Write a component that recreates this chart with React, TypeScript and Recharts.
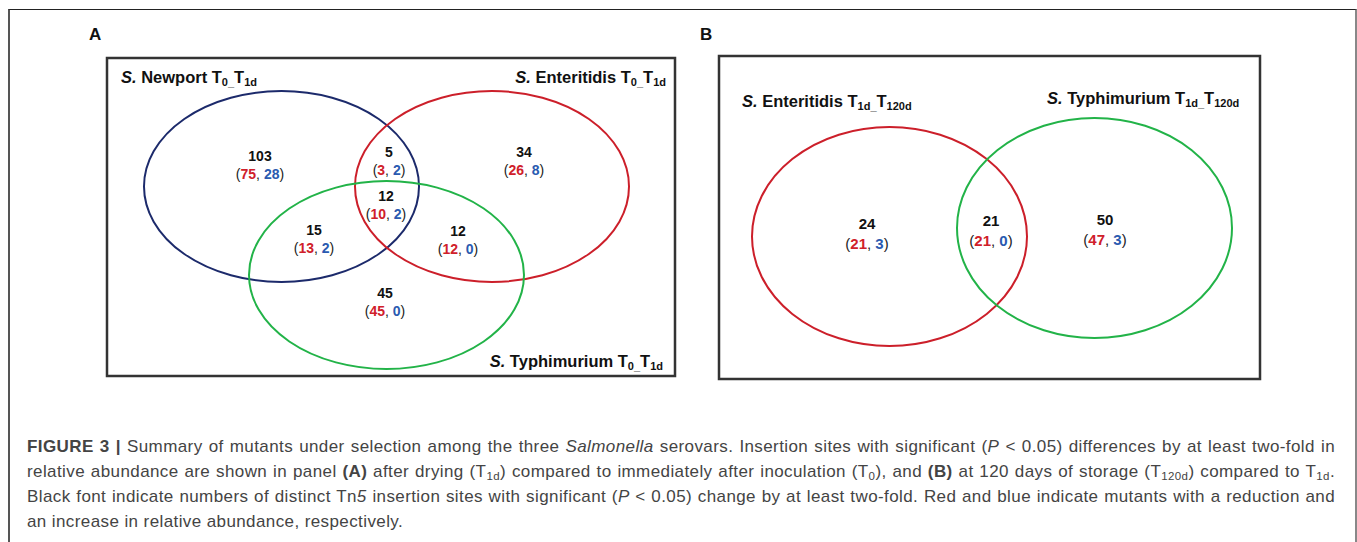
import React from 'react';
import { ScatterChart, Scatter, XAxis, YAxis, ReferenceArea } from 'recharts';

// ---- data ----
// panel A: three serovars, T0 -> T1d
const panelASets = ['Newport', 'Enteritidis', 'Typhimurium'];
const panelAPeriod = ['0', '1d'];
const panelARegions = ['N', 'N+E', 'E', 'N+E+T', 'N+T', 'E+T', 'T'];
const panelATotal = [103, 5, 34, 12, 15, 12, 45];
const panelAReduced = [75, 3, 26, 10, 13, 12, 45];
const panelAIncreased = [28, 2, 8, 2, 2, 0, 0];

// panel B: two serovars, T1d -> T120d
const panelBSets = ['Enteritidis', 'Typhimurium'];
const panelBPeriod = ['1d', '120d'];
const panelBRegions = ['E', 'E+T', 'T'];
const panelBTotal = [24, 21, 50];
const panelBReduced = [21, 21, 47];
const panelBIncreased = [3, 0, 3];

const panelLetters = ['A', 'B'];

// ---- layout (figure units, 1 unit = 1px) ----
const W = 1357;
const H = 400;
const FONT = '"Liberation Sans", Arial, Helvetica, sans-serif';

const NAVY = '#1c2a6b';
const RED = '#cc1f2a';
const GREEN = '#22b348';
const TXT_RED = '#d0202a';
const TXT_BLUE = '#2a5ab0';

const SET_COLOR: Record<string, string> = {
  Newport: NAVY,
  Enteritidis: RED,
  Typhimurium: GREEN,
};

const BOXES = [
  { x1: 107, x2: 675, y1: 58, y2: 376 },
  { x1: 719, x2: 1260, y1: 56, y2: 379 },
];

const LETTER_POS = [
  { x: 89, y: 40 },
  { x: 700, y: 40 },
];

const ELLIPSE_A = [
  { x1: 144, x2: 419, y1: 91, y2: 282 },
  { x1: 355, x2: 629, y1: 91, y2: 282 },
  { x1: 249, x2: 524, y1: 181, y2: 369 },
];
const ELLIPSE_B = [
  { x1: 752, x2: 1027, y1: 127, y2: 346 },
  { x1: 957, x2: 1232, y1: 118, y2: 338 },
];

const TITLE_A = [
  { x: 121, y: 83, anchor: 'start' },
  { x: 666, y: 83, anchor: 'end' },
  { x: 663, y: 367, anchor: 'end' },
];
const TITLE_B = [
  { x: 742, y: 107, anchor: 'start' },
  { x: 1047, y: 104, anchor: 'start' },
];

const REGION_A = [
  { x: 260, y: 156 },
  { x: 389, y: 152 },
  { x: 524, y: 152 },
  { x: 386, y: 196 },
  { x: 314, y: 230 },
  { x: 458, y: 231 },
  { x: 385, y: 293 },
];
const REGION_B = [
  { x: 867, y: 223 },
  { x: 991, y: 220 },
  { x: 1105, y: 219 },
];

const ellipses = [
  ...panelASets.map((s, i) => ({ ...ELLIPSE_A[i], color: SET_COLOR[s], key: 'A' + s })),
  ...panelBSets.map((s, i) => ({ ...ELLIPSE_B[i], color: SET_COLOR[s], key: 'B' + s })),
];

const titles = [
  ...panelASets.map((s, i) => ({ ...TITLE_A[i], name: s, from: panelAPeriod[0], to: panelAPeriod[1] })),
  ...panelBSets.map((s, i) => ({ ...TITLE_B[i], name: s, from: panelBPeriod[0], to: panelBPeriod[1] })),
];

const regions = [
  ...panelARegions.map((r, i) => ({
    ...REGION_A[i], region: r, panel: 'A',
    total: panelATotal[i], reduced: panelAReduced[i], increased: panelAIncreased[i],
  })),
  ...panelBRegions.map((r, i) => ({
    ...REGION_B[i], region: r, panel: 'B',
    total: panelBTotal[i], reduced: panelBReduced[i], increased: panelBIncreased[i],
  })),
];

const letters = panelLetters.map((l, i) => ({ ...LETTER_POS[i], letter: l }));

function TitleShape(props: any) {
  const { cx, cy, payload } = props;
  return (
    <text x={cx} y={cy} textAnchor={payload.anchor} fontFamily={FONT} fontSize={16.5} fontWeight="bold" fill="#111">
      <tspan fontStyle="italic">S.</tspan>
      <tspan> {payload.name} T</tspan>
      <tspan fontSize={11} dy={3}>{payload.from}_</tspan>
      <tspan dy={-3}>T</tspan>
      <tspan fontSize={11} dy={3}>{payload.to}</tspan>
    </text>
  );
}

function RegionShape(props: any) {
  const { cx, cy, payload } = props;
  const fs = payload.panel === 'A' ? 14 : 15;
  const gap = payload.panel === 'A' ? 17.5 : 20;
  return (
    <g fontFamily={FONT} fontSize={fs}>
      <text x={cx} y={cy} textAnchor="middle" dominantBaseline="central" fontWeight="bold" fill="#111">
        {payload.total}
      </text>
      <text x={cx} y={cy + gap} textAnchor="middle" dominantBaseline="central" fill="#222">
        (<tspan fill={TXT_RED} fontWeight="bold">{payload.reduced}</tspan>, <tspan fill={TXT_BLUE} fontWeight="bold">{payload.increased}</tspan>)
      </text>
    </g>
  );
}

function LetterShape(props: any) {
  const { cx, cy, payload } = props;
  return (
    <text x={cx} y={cy} fontFamily={FONT} fontSize={17} fontWeight="bold" fill="#111">
      {payload.letter}
    </text>
  );
}

const justify: React.CSSProperties = { textAlign: 'justify', textAlignLast: 'justify', whiteSpace: 'nowrap' };
const subStyle: React.CSSProperties = { fontSize: 11.5, verticalAlign: '-3px', lineHeight: 0 };

export default function App() {
  return (
    <div style={{ position: 'absolute', left: 0, top: 0, width: W, height: 542, background: '#fff', overflow: 'hidden' }}>
      <div
        style={{
          position: 'absolute', left: 8, top: 9, width: 1345, height: 600,
          borderTop: '1px solid #222', borderLeft: '2px solid #555', borderRight: '2px solid #888',
        }}
      />
      <div style={{ position: 'absolute', left: 0, top: 0 }}>
        <ScatterChart width={W} height={H} margin={{ top: 0, right: 0, bottom: 0, left: 0 }}>
          <XAxis type="number" dataKey="x" domain={[0, W]} allowDataOverflow hide />
          <YAxis type="number" dataKey="y" domain={[0, H]} allowDataOverflow reversed hide />
          {BOXES.map((b, i) => (
            <ReferenceArea key={'box' + i} x1={b.x1} x2={b.x2} y1={b.y1} y2={b.y2} fill="none" stroke="#333" strokeWidth={2.5} />
          ))}
          {ellipses.map((e) => (
            <ReferenceArea
              key={e.key}
              x1={e.x1}
              x2={e.x2}
              y1={e.y1}
              y2={e.y2}
              shape={(p: any) => (
                <ellipse
                  cx={p.x + p.width / 2}
                  cy={p.y + p.height / 2}
                  rx={p.width / 2}
                  ry={p.height / 2}
                  fill="none"
                  stroke={e.color}
                  strokeWidth={2}
                />
              )}
            />
          ))}
          <Scatter data={letters} shape={LetterShape} isAnimationActive={false} />
          <Scatter data={titles} shape={TitleShape} isAnimationActive={false} />
          <Scatter data={regions} shape={RegionShape} isAnimationActive={false} />
        </ScatterChart>
      </div>
      <div
        style={{
          position: 'absolute', left: 27, top: 434, width: 1308,
          fontFamily: FONT, fontSize: 17, lineHeight: '25px', letterSpacing: '0.4px', color: '#444',
        }}
      >
        <div style={justify}>
          <b>FIGURE 3 |</b> Summary of mutants under selection among the three <i>Salmonella</i> serovars. Insertion sites with significant (<i>P</i> &lt; 0.05) differences by at least two-fold in
        </div>
        <div style={justify}>
          relative abundance are shown in panel <b>(A)</b> after drying (T<sub style={subStyle}>1d</sub>) compared to immediately after inoculation (T<sub style={subStyle}>0</sub>), and <b>(B)</b> at 120 days of storage (T<sub style={subStyle}>120d</sub>) compared to T<sub style={subStyle}>1d</sub>.
        </div>
        <div style={justify}>
          Black font indicate numbers of distinct Tn<i>5</i> insertion sites with significant (<i>P</i> &lt; 0.05) change by at least two-fold. Red and blue indicate mutants with a reduction and
        </div>
        <div style={{ whiteSpace: 'nowrap' }}>an increase in relative abundance, respectively.</div>
      </div>
    </div>
  );
}
